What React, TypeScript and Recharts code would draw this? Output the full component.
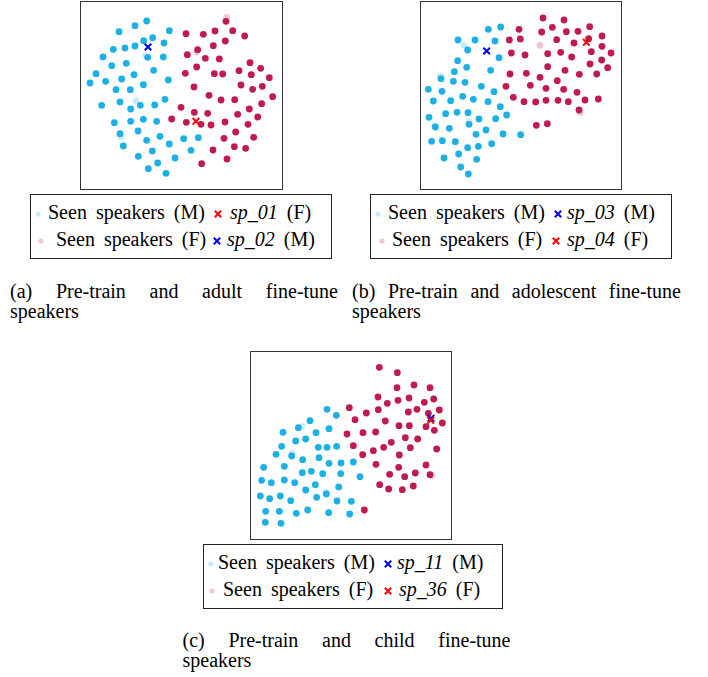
import React from 'react';
import { ScatterChart, Scatter, XAxis, YAxis } from 'recharts';

type P = [number, number];

// (a) Pre-train and adult fine-tune speakers
const adultSeenM: P[] = [[200,63],[165,77],[117,95],[268,92],[218,113],[191,122],[252,129],[100,148],[135,144],[165,138],[203,172],[250,171],[69,171],[139,190],[95,197],[221,211],[48,221],[162,224],[125,237],[77,244],[30,249],[190,254],[265,240],[108,269],[151,269],[255,298],[65,316],[120,306],[181,316],[224,315],[152,327],[103,368],[152,364],[190,358],[230,364],[120,401],[174,393],[130,438],[200,421],[240,409],[268,432],[311,416],[355,413],[217,453],[333,451],[175,469],[285,474],[233,489],[205,506],[258,520]];
const adultSeenMFaded: P[] = [[197,167],[168,303],[123,410]];
const adultSeenF: P[] = [[438,64],[318,101],[370,103],[405,93],[458,92],[494,108],[436,123],[400,137],[353,149],[322,164],[376,175],[418,177],[510,188],[350,201],[477,212],[542,205],[316,220],[403,221],[428,222],[514,224],[568,233],[483,255],[547,259],[518,268],[342,261],[387,286],[423,300],[464,299],[578,290],[545,311],[303,322],[343,337],[383,340],[508,327],[473,343],[275,357],[319,367],[363,373],[393,375],[435,366],[533,351],[504,373],[467,396],[432,415],[521,412],[399,450],[463,440],[497,445],[441,477],[365,491]];
const adultSeenFFaded: P[] = [[440,52],[350,156]];
const sp01: P[] = [[348,364]];
const sp02: P[] = [[204,141]];

// (b) Pre-train and adolescent fine-tune speakers
const adolSeenM: P[] = [[208,88],[245,81],[117,120],[168,120],[146,150],[228,123],[240,173],[116,182],[143,202],[106,215],[215,211],[66,236],[103,244],[138,247],[187,259],[28,268],[69,274],[225,275],[43,303],[95,302],[131,289],[163,298],[207,305],[244,320],[80,341],[114,337],[147,338],[30,352],[180,357],[230,356],[263,345],[49,381],[91,385],[150,373],[201,390],[171,403],[252,402],[305,404],[38,424],[70,422],[109,425],[218,431],[146,443],[178,439],[119,462],[75,474],[173,478],[125,501],[148,522]];
const adolSeenMFaded: P[] = [[135,136],[64,228],[47,376],[150,366]];
const adolSeenF: P[] = [[372,54],[435,60],[300,88],[368,96],[400,82],[442,95],[477,94],[512,80],[271,120],[304,117],[413,119],[465,129],[509,116],[549,108],[277,159],[318,165],[386,161],[425,157],[458,171],[517,155],[549,139],[576,159],[548,180],[513,192],[386,200],[438,211],[481,223],[533,222],[566,203],[273,222],[322,220],[363,232],[415,242],[261,259],[334,256],[381,265],[434,268],[474,277],[283,292],[315,305],[350,306],[381,301],[417,301],[448,305],[498,300],[538,297],[480,330],[352,376],[385,371]];
const adolSeenFFaded: P[] = [[363,136],[484,337]];
const sp03: P[] = [[203,153]];
const sp04: P[] = [[502,127]];

// (c) Pre-train and child fine-tune speakers
const childSeenM: P[] = [[231,178],[259,196],[180,212],[145,233],[99,247],[198,248],[237,236],[137,273],[167,267],[95,289],[78,313],[125,318],[205,292],[231,292],[260,289],[158,329],[207,323],[237,340],[273,339],[310,336],[41,352],[103,349],[157,368],[184,364],[218,371],[272,371],[330,380],[35,391],[64,398],[103,390],[134,398],[196,404],[167,420],[266,411],[31,438],[59,446],[91,438],[122,452],[200,442],[229,432],[261,453],[304,454],[47,484],[88,484],[139,490],[173,480],[236,488],[299,492],[46,517],[93,520]];
const childSeenMFaded: P[] = [[155,230],[228,427],[127,310]];
const childSeenF: P[] = [[388,52],[442,68],[441,113],[492,105],[540,113],[384,141],[412,160],[444,151],[477,144],[523,157],[551,147],[298,173],[349,189],[385,179],[475,186],[501,178],[568,180],[535,190],[315,209],[406,213],[447,227],[478,227],[528,230],[553,241],[577,219],[291,252],[339,248],[377,246],[466,263],[503,267],[424,277],[401,292],[310,287],[481,293],[560,297],[370,302],[338,314],[448,315],[378,343],[446,352],[528,345],[419,373],[464,380],[496,369],[540,374],[389,404],[416,417],[457,419],[490,408],[343,480]];
const childSeenFFaded: P[] = [[545,377]];
const sp11: P[] = [[543,205]];
const sp36: P[] = [[542,211]];

// Labels
const seenLabels = ['Seen speakers (M)', 'Seen speakers (F)'];
const captionsLine1 = ['(a) Pre-train and adult fine-tune', '(b) Pre-train and adolescent fine-tune', '(c) Pre-train and child fine-tune'];
const captionLine2 = 'speakers';
const targetNames = [['sp_01', '(F)', 'sp_02', '(M)'], ['sp_03', '(M)', 'sp_04', '(F)'], ['sp_11', '(M)', 'sp_36', '(F)']];

const CYAN = '#1DB0E7';
const CRIMSON = '#C11A50';
const BLUE = '#0000FF';
const RED = '#FF0000';
const LIGHT_CYAN = '#C9EAF8';
const LIGHT_PINK = '#F1C8D5';
const FONT = '"Liberation Serif", "Times New Roman", serif';

const toObj = (arr: P[]) => arr.map(([x, y]) => ({ x, y }));

const dotShape = (color: string, opacity: number) => (props: any) => {
  const { cx, cy } = props;
  if (cx == null || cy == null) return <g />;
  return <circle cx={cx} cy={cy} r={3.4} fill={color} fillOpacity={opacity} />;
};

const xShape = (color: string) => (props: any) => {
  const { cx, cy } = props;
  if (cx == null || cy == null) return <g />;
  const s = 3.3;
  return (
    <path
      d={`M${cx - s},${cy - s}L${cx + s},${cy + s}M${cx - s},${cy + s}L${cx + s},${cy - s}`}
      stroke={color}
      strokeWidth={2}
      fill="none"
    />
  );
};

type PanelProps = {
  left: number; top: number; width: number; height: number;
  xDomain: [number, number]; yDomain: [number, number];
  seenM: P[]; seenMFaded: P[]; seenF: P[]; seenFFaded: P[];
  first: { pts: P[]; color: string }; second: { pts: P[]; color: string };
};

const Panel = (p: PanelProps) => (
  <div style={{ position: 'absolute', left: p.left, top: p.top, width: p.width + 2, height: p.height + 2, border: '1px solid #333', boxSizing: 'border-box' }}>
    <ScatterChart width={p.width} height={p.height} margin={{ top: 0, right: 0, bottom: 0, left: 0 }}>
      <XAxis type="number" dataKey="x" domain={p.xDomain} hide allowDataOverflow />
      <YAxis type="number" dataKey="y" domain={p.yDomain} reversed hide allowDataOverflow />
      <Scatter data={toObj(p.seenMFaded)} shape={dotShape(CYAN, 0.25)} isAnimationActive={false} />
      <Scatter data={toObj(p.seenM)} shape={dotShape(CYAN, 1)} isAnimationActive={false} />
      <Scatter data={toObj(p.seenFFaded)} shape={dotShape(CRIMSON, 0.25)} isAnimationActive={false} />
      <Scatter data={toObj(p.seenF)} shape={dotShape(CRIMSON, 1)} isAnimationActive={false} />
      <Scatter data={toObj(p.first.pts)} shape={xShape(p.first.color)} isAnimationActive={false} />
      <Scatter data={toObj(p.second.pts)} shape={xShape(p.second.color)} isAnimationActive={false} />
    </ScatterChart>
  </div>
);

const XIcon = ({ x, y, color }: { x: number; y: number; color: string }) => (
  <svg style={{ position: 'absolute', left: x - 5, top: y - 5 }} width={10} height={10}>
    <path d="M1.8,1.8L8.2,8.2M1.8,8.2L8.2,1.8" stroke={color} strokeWidth={2} />
  </svg>
);
const DotIcon = ({ x, y, color }: { x: number; y: number; color: string }) => (
  <svg style={{ position: 'absolute', left: x - 4, top: y - 4 }} width={8} height={8}>
    <circle cx={4} cy={4} r={2.6} fill={color} />
  </svg>
);

type LegendLayout = {
  box: [number, number, number, number];
  rowTop: [number, number]; markY: [number, number];
  dotX: [number, number]; textX: [number, number];
  markX: [number, number]; labelX: [number, number];
  markColors: [string, string];
};

const textStyle: React.CSSProperties = { position: 'absolute', fontFamily: FONT, fontSize: 20, lineHeight: '22px', whiteSpace: 'nowrap', color: '#000', wordSpacing: 4 };

const LegendBox = ({ l, names }: { l: LegendLayout; names: string[] }) => (
  <>
    <div style={{ position: 'absolute', left: l.box[0], top: l.box[1], width: l.box[2], height: l.box[3], border: '1px solid #222', boxSizing: 'border-box' }} />
    {[0, 1].map((i) => (
      <React.Fragment key={i}>
        <DotIcon x={l.dotX[i]} y={l.markY[i]} color={i === 0 ? LIGHT_CYAN : LIGHT_PINK} />
        <div style={{ ...textStyle, left: l.textX[i], top: l.rowTop[i] }}>{seenLabels[i]}</div>
        <XIcon x={l.markX[i]} y={l.markY[i]} color={l.markColors[i]} />
        <div style={{ ...textStyle, left: l.labelX[i], top: l.rowTop[i] }}>
          <i>{names[i * 2]}</i> {names[i * 2 + 1]}
        </div>
      </React.Fragment>
    ))}
  </>
);

const Caption = ({ left, top, width, line1 }: { left: number; top: number; width: number; line1: string }) => (
  <div style={{ position: 'absolute', left, top, width, fontFamily: FONT, fontSize: 20, lineHeight: '20px', color: '#000' }}>
    <div style={{ textAlign: 'justify', textAlignLast: 'justify' }}>{line1}</div>
    <div>{captionLine2}</div>
  </div>
);

export default function App() {
  const legendA: LegendLayout = { box: [30, 194, 302, 65], rowTop: [201, 227.5], markY: [214, 241], dotX: [37.5, 41], textX: [48, 56], markX: [218, 217], labelX: [230, 227], markColors: [RED, BLUE] };
  const legendB: LegendLayout = { box: [370, 194, 302, 65], rowTop: [201, 227.5], markY: [214, 241], dotX: [378, 382], textX: [388, 392], markX: [558, 556], labelX: [567, 567], markColors: [BLUE, RED] };
  const legendC: LegendLayout = { box: [203, 544, 300, 65], rowTop: [551, 577.5], markY: [564, 591], dotX: [211, 212], textX: [218, 223], markX: [388, 388], labelX: [397, 399], markColors: [BLUE, RED] };
  return (
    <div style={{ position: 'absolute', left: 0, top: 0, width: 708, height: 677, background: '#fff', overflow: 'hidden' }}>
      <Panel left={80} top={1} width={201} height={187} xDomain={[3, 606]} yDomain={[6, 567]}
        seenM={adultSeenM} seenMFaded={adultSeenMFaded} seenF={adultSeenF} seenFFaded={adultSeenFFaded}
        first={{ pts: sp01, color: RED }} second={{ pts: sp02, color: BLUE }} />
      <Panel left={420} top={1} width={200} height={187} xDomain={[6, 606]} yDomain={[6, 567]}
        seenM={adolSeenM} seenMFaded={adolSeenMFaded} seenF={adolSeenF} seenFFaded={adolSeenFFaded}
        first={{ pts: sp03, color: BLUE }} second={{ pts: sp04, color: RED }} />
      <Panel left={250} top={351} width={200} height={187} xDomain={[3, 603]} yDomain={[6, 567]}
        seenM={childSeenM} seenMFaded={childSeenMFaded} seenF={childSeenF} seenFFaded={childSeenFFaded}
        first={{ pts: sp11, color: BLUE }} second={{ pts: sp36, color: RED }} />
      <LegendBox l={legendA} names={targetNames[0]} />
      <LegendBox l={legendB} names={targetNames[1]} />
      <LegendBox l={legendC} names={targetNames[2]} />
      <Caption left={10} top={281} width={328} line1={captionsLine1[0]} />
      <Caption left={352} top={281} width={329} line1={captionsLine1[1]} />
      <Caption left={182.5} top={630} width={328} line1={captionsLine1[2]} />
    </div>
  );
}
